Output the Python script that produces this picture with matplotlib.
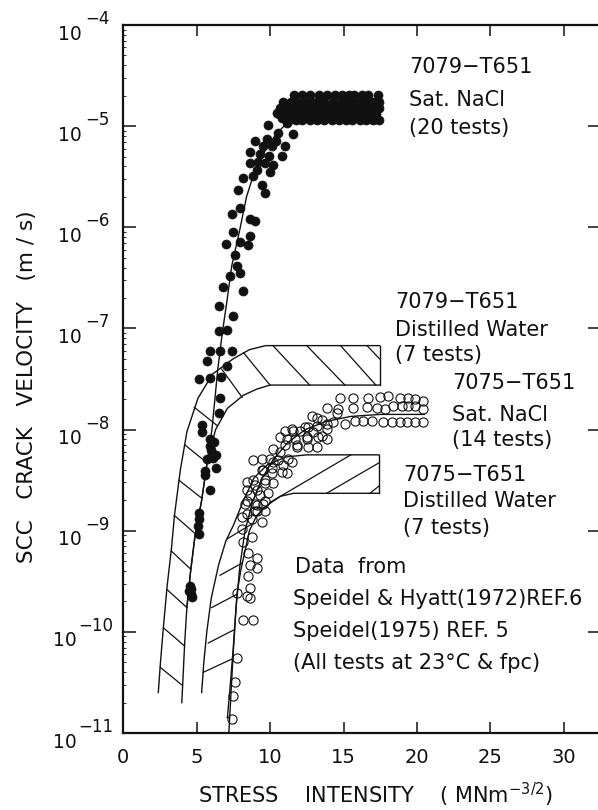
import numpy as np
import matplotlib
matplotlib.use("Agg")
import matplotlib.pyplot as plt

# ---------------------------------------------------------------- data
# 7079-T651, saturated NaCl (filled circles): stress intensity K and log10 velocity
nacl_7079_K = [4.55, 4.65, 4.6, 4.7, 4.5, 5.15, 5.2, 5.1, 5.2,
               5.9, 5.6, 6.3, 5.7, 6.1, 5.9, 5.9, 6.2, 5.4, 5.4, 6.5, 6.6, 5.2, 5.9, 6.7,
               5.7, 5.9, 6.6, 7.4, 7.1, 6.5, 7.1, 7.5, 6.5, 6.83, 8.19, 7.28, 7.96, 7.73,
               7.62, 7.01, 7.96, 8.53, 7.51, 8.64, 7.39, 7.96, 8.64, 8.98, 7.85, 8.19,
               8.87, 9.43, 9.66, 8.64, 9.09, 10.0, 9.66, 10.23, 10.79, 8.64, 9.32, 10.11,
               11.02, 8.98, 9.77, 10.57, 11.59, 9.89, 11.13, 10.45, 11.59, 10.79, 9.5,
               9.9, 9.2, 10.4, 6.0, 6.3, 5.6,
               11.6, 12.15, 12.7, 13.3, 13.85, 14.4, 14.9, 15.35, 15.7, 16.25, 16.7, 17.35,
               10.9, 11.4, 11.8, 12.3, 12.8, 13.2, 13.7, 14.3, 14.8, 15.2, 15.7, 16.1, 16.6, 17.0, 17.4,
               10.7, 11.2, 11.7, 12.1, 12.6, 13.0, 13.5, 14.0, 14.5, 15.0, 15.5, 15.9, 16.4, 16.9, 17.4,
               10.6, 11.0, 11.5, 12.0, 12.4, 12.9, 13.4, 13.9, 14.3, 14.8, 15.3, 15.8, 16.2, 16.7, 17.2,
               11.3, 11.8, 12.2, 12.7, 13.2, 13.7, 14.2, 14.7, 15.2, 15.6, 16.1, 16.5, 17.0, 17.4]
nacl_7079_logv = [-9.55, -9.58, -9.63, -9.66, -9.6, -8.82, -8.88, -8.95, -9.03,
                  -8.6, -8.41, -8.38, -8.29, -8.28, -8.16, -8.09, -8.12, -8.02, -7.95, -7.84, -7.69, -7.5, -7.49, -7.48,
                  -7.32, -7.22, -7.22, -7.22, -7.37, -7.03, -7.02, -6.88, -6.78, -6.59, -6.63, -6.48, -6.45, -6.38,
                  -6.27, -6.17, -6.15, -6.18, -6.05, -6.09, -5.87, -5.81, -5.92, -5.94, -5.63, -5.51,
                  -5.49, -5.58, -5.66, -5.36, -5.43, -5.45, -5.36, -5.38, -5.30, -5.26, -5.28, -5.20,
                  -5.20, -5.15, -5.13, -5.07, -5.08, -4.99, -4.97, -4.87, -4.89, -4.92, -5.2,
                  -5.3, -5.35, -5.15, -8.2, -8.25, -8.45,
                  -4.69, -4.69, -4.69, -4.69, -4.69, -4.69, -4.69, -4.69, -4.69, -4.69, -4.69, -4.69,
                  -4.76, -4.76, -4.76, -4.76, -4.76, -4.76, -4.76, -4.76, -4.76, -4.76, -4.76, -4.76, -4.76, -4.76, -4.76,
                  -4.82, -4.82, -4.82, -4.82, -4.82, -4.82, -4.82, -4.82, -4.82, -4.82, -4.82, -4.82, -4.82, -4.82, -4.82,
                  -4.88, -4.88, -4.88, -4.88, -4.88, -4.88, -4.88, -4.88, -4.88, -4.88, -4.88, -4.88, -4.88, -4.88, -4.88,
                  -4.94, -4.94, -4.94, -4.94, -4.94, -4.94, -4.94, -4.94, -4.94, -4.94, -4.94, -4.94, -4.94, -4.94]

# 7075-T651, saturated NaCl (open circles)
nacl_7075_K = [14.76, 15.67, 16.69, 17.48, 18.05, 18.84, 19.41, 19.86, 20.4,
               13.86, 14.65, 15.67, 16.58, 17.26, 17.82, 18.39, 18.96, 19.41, 19.86, 20.4,
               14.31, 15.10, 15.78, 16.35, 16.92, 17.71, 18.28, 18.84, 19.30, 19.86, 20.4,
               12.84, 13.51, 13.17, 13.86, 12.61, 12.04, 11.47, 11.02, 11.70, 12.49, 13.29,
               13.86, 10.68, 10.23, 11.02, 11.81, 12.61, 13.17, 9.43, 8.87, 10.00, 10.57,
               11.25, 9.43, 10.11, 10.79, 11.13, 8.41, 8.98, 9.66, 10.23, 8.64, 9.32, 9.89,
               8.30, 8.98, 9.55, 8.41, 9.09,
               8.87, 8.41, 9.09, 9.66, 10.11, 9.55, 10.23, 10.91, 11.47, 10.68, 11.13, 11.81,
               12.49, 11.59, 12.38, 12.95, 13.51, 13.17, 13.85, 14.53,
               8.41, 9.09, 9.66, 8.98, 9.66, 8.07, 8.75, 9.43, 8.07, 8.19, 8.75, 8.53, 9.09,
               8.64, 9.09, 8.53, 8.64, 7.73, 8.41, 8.64, 8.19, 8.87, 7.73, 7.62, 7.51, 7.39]
nacl_7075_logv = [-7.69, -7.69, -7.69, -7.68, -7.67, -7.69, -7.69, -7.70, -7.72,
                  -7.79, -7.80, -7.79, -7.78, -7.79, -7.80, -7.77, -7.77, -7.77, -7.77, -7.80,
                  -7.93, -7.94, -7.92, -7.92, -7.92, -7.93, -7.93, -7.93, -7.93, -7.93, -7.93,
                  -7.87, -7.91, -7.96, -7.99, -7.97, -8.01, -7.99, -8.01, -8.09, -8.07, -8.07,
                  -8.09, -8.07, -8.19, -8.15, -8.17, -8.17, -8.17, -8.29, -8.30, -8.29, -8.30,
                  -8.29, -8.40, -8.38, -8.42, -8.43, -8.52, -8.55, -8.53, -8.53, -8.65, -8.65, -8.63,
                  -8.74, -8.74, -8.74, -8.83, -8.81,
                  -8.50, -8.60, -8.60, -8.50, -8.43, -8.40, -8.32, -8.35, -8.32, -8.22, -8.09, -8.15,
                  -8.09, -8.01, -7.97, -8.02, -8.06, -7.89, -7.94, -7.84,
                  -8.71, -8.75, -8.71, -8.81, -8.81, -8.86, -8.88, -8.91, -8.98, -9.11, -9.06, -9.22, -9.27,
                  -9.34, -9.37, -9.45, -9.57, -9.62, -9.65, -9.67, -9.88, -9.88, -10.26, -10.50, -10.63, -10.86]

# Trend lines through the NaCl data
fit_7079_K = [4.35, 4.6, 4.9, 5.35, 5.75, 6.05, 6.25, 6.45, 6.75, 7.05, 7.4, 7.95, 8.4,
              8.9, 9.5, 10.4, 11.5, 13.0, 15.0, 17.45]
fit_7079_logv = [-9.75, -9.4, -9.05, -8.7, -8.3, -8.0, -7.7, -7.4, -7.05, -6.75, -6.38,
                 -6.02, -5.7, -5.47, -5.28, -5.08, -4.92, -4.83, -4.8, -4.8]
fit_7075_K = [7.2, 7.35, 7.5, 7.7, 7.95, 8.3, 8.8, 9.4, 10.2, 11.2, 12.4, 13.8, 15.5, 17.5, 20.5]
fit_7075_logv = [-11.0, -10.6, -10.2, -9.75, -9.35, -9.0, -8.72, -8.5, -8.3, -8.13, -8.0,
                 -7.92, -7.87, -7.85, -7.85]

# 7079-T651, distilled water scatter band (upper / lower bounds)
dw_7079_upper_K = [2.4, 2.55, 2.75, 3.0, 3.3, 3.5, 3.9, 4.35, 5.1, 6.1, 7.5, 8.6, 9.7, 17.45]
dw_7079_upper_logv = [-10.6, -10.3, -9.95, -9.55, -9.17, -8.85, -8.4, -8.02, -7.69, -7.45,
                      -7.3, -7.21, -7.17, -7.17]
dw_7079_lower_K = [4.0, 4.1, 4.2, 4.35, 4.6, 4.9, 5.35, 5.75, 6.3, 7.1, 8.2, 9.1, 10.0, 17.45]
dw_7079_lower_logv = [-10.7, -10.4, -10.1, -9.75, -9.4, -9.05, -8.7, -8.3, -8.0, -7.79,
                      -7.66, -7.6, -7.56, -7.56]
# hatch strokes across the band: (K1, logv1, K2, logv2)
dw_7079_hatch = [(2.53, -10.35, 4.05, -10.53), (2.75, -9.96, 4.19, -10.14),
                 (2.98, -9.58, 4.35, -9.76), (3.28, -9.2, 4.6, -9.38),
                 (3.5, -8.85, 4.92, -9.03), (3.8, -8.5, 5.37, -8.68),
                 (4.2, -8.15, 5.72, -8.33), (4.85, -7.78, 6.4, -7.96),
                 (6.7, -7.40, 8.1, -7.68), (8.2, -7.24, 10.0, -7.56),
                 (10.2, -7.17, 12.7, -7.56), (12.5, -7.17, 15.1, -7.56),
                 (14.8, -7.17, 17.2, -7.56), (16.6, -7.17, 17.45, -7.3)]

# 7075-T651, distilled water scatter band
dw_7075_upper_K = [5.35, 5.5, 5.7, 6.0, 6.5, 7.0, 7.5, 8.2, 8.9, 9.8, 11.1, 12.5, 17.4]
dw_7075_upper_logv = [-10.6, -10.3, -10.0, -9.67, -9.34, -9.1, -8.95, -8.7, -8.48, -8.35,
                      -8.27, -8.25, -8.25]
dw_7075_lower_K = [7.1, 7.3, 7.5, 7.75, 8.0, 8.3, 8.6, 9.1, 9.8, 10.7, 11.6, 17.4]
dw_7075_lower_logv = [-10.85, -10.52, -10.16, -9.63, -9.4, -9.2, -9.0, -8.85, -8.75, -8.66,
                      -8.63, -8.63]
dw_7075_hatch = [(5.46, -10.40, 7.39, -10.27), (5.8, -10.11, 7.55, -9.98),
                 (6.03, -9.76, 7.73, -9.63), (6.6, -9.44, 8.1, -9.32),
                 (7.1, -9.08, 8.8, -8.93), (10.0, -8.72, 15.5, -8.25),
                 (13.85, -8.63, 17.4, -8.33), (16.8, -8.63, 17.4, -8.56)]

x_ticks = [0, 5, 10, 15, 20, 25, 30]
x_ticklabels = ["0", "5", "10", "15", "20", "25", "30"]
y_exponents = [-4, -5, -6, -7, -8, -9, -10, -11]

# ---------------------------------------------------------------- style
W, H = 598, 810
plt.rcParams["font.family"] = ["DejaVu Sans"]
plt.rcParams["mathtext.fontset"] = "dejavusans"

fig = plt.figure(figsize=(W / 100, H / 100), dpi=100)
ax = fig.add_axes([123 / W, 1 - 733 / H, 477 / W, 708 / H])
ax.set_yscale("log")
ax.set_xlim(0, 477 / 14.7)
ax.set_ylim(1e-11, 1e-4)

INK = "#111111"
for s in ax.spines.values():
    s.set_linewidth(1.6)
    s.set_color(INK)


def v(logs):
    return 10.0 ** np.asarray(logs)


# scatter bands for distilled water
lw = 1.0
for (uk, ul, lk, ll, hatch) in [
        (dw_7079_upper_K, dw_7079_upper_logv, dw_7079_lower_K, dw_7079_lower_logv, dw_7079_hatch),
        (dw_7075_upper_K, dw_7075_upper_logv, dw_7075_lower_K, dw_7075_lower_logv, dw_7075_hatch)]:
    ax.plot(uk, v(ul), color=INK, lw=lw)
    ax.plot(lk, v(ll), color=INK, lw=lw)
    ax.plot([uk[-1], lk[-1]], [v(ul[-1]), v(ll[-1])], color=INK, lw=lw)
    for k1, l1, k2, l2 in hatch:
        ax.plot([k1, k2], v([l1, l2]), color=INK, lw=0.9)

# trend lines
ax.plot(fit_7079_K, v(fit_7079_logv), color=INK, lw=1.0)
ax.plot(fit_7075_K, v(fit_7075_logv), color=INK, lw=1.0)

# data points
ax.plot(nacl_7079_K, v(nacl_7079_logv), ls="none", marker="o", ms=6.5,
        mfc=INK, mec=INK, mew=0.5, zorder=4)
ax.plot(nacl_7075_K, v(nacl_7075_logv), ls="none", marker="o", ms=6.6,
        mfc="none", mec=INK, mew=0.8, zorder=4)

# ticks
ax.set_xticks(x_ticks)
ax.set_xticklabels(x_ticklabels)
ax.tick_params(axis="x", which="major", direction="in", top=True, bottom=True,
               length=8, width=1.1, color=INK, labelsize=14, pad=11, labelcolor=INK)
ax.set_yticks([10.0 ** e for e in y_exponents])
ax.set_yticklabels([])
ax.tick_params(axis="y", which="major", direction="in", left=True, right=True,
               length=9, width=1.1, color=INK)
ax.yaxis.set_minor_locator(matplotlib.ticker.LogLocator(base=10, subs=(2, 3, 4, 5, 6, 7, 8, 9)))
ax.yaxis.set_minor_formatter(matplotlib.ticker.NullFormatter())
ax.tick_params(axis="y", which="minor", direction="in", left=True, right=False,
               length=2.5, width=0.6, color=INK)
ax.xaxis.set_minor_locator(matplotlib.ticker.NullLocator())


def ftext(x, y, s, **kw):
    fig.text(x / W, 1 - y / H, s, color=INK, **kw)


# y tick labels: 10 with a raised exponent
for e in y_exponents:
    ypix = 25 + (-4 - e) * (708 / 7)
    exp = "\u2212" + str(-e)
    if e > -10:
        ftext(82, ypix + 9, "10", ha="right", va="center", fontsize=13.5)
        ftext(85, ypix - 6, exp, ha="left", va="center", fontsize=12)
    else:
        ftext(77, ypix + 9, "10", ha="right", va="center", fontsize=13.5)
        ftext(78, ypix - 6, exp, ha="left", va="center", fontsize=12)

# axis titles
ftext(375, 803, "STRESS    INTENSITY    ( MNm$^{-3/2}$)", ha="center", va="baseline",
      fontsize=15)
ftext(27, 387, "SCC   CRACK   VELOCITY   (m / s)", ha="center", va="center",
      rotation=90, fontsize=15.5)

# annotations
fs = 15
ftext(409, 67, "7079\u2212T651", ha="left", va="center", fontsize=fs)
ftext(409, 100, "Sat. NaCl", ha="left", va="center", fontsize=fs)
ftext(409, 128, "(20 tests)", ha="left", va="center", fontsize=fs)

ftext(395, 302, "7079\u2212T651", ha="left", va="center", fontsize=fs)
ftext(395, 330, "Distilled Water", ha="left", va="center", fontsize=fs)
ftext(395, 355, "(7 tests)", ha="left", va="center", fontsize=fs)

ftext(452, 383, "7075\u2212T651", ha="left", va="center", fontsize=fs)
ftext(452, 415, "Sat. NaCl", ha="left", va="center", fontsize=fs)
ftext(452, 440, "(14 tests)", ha="left", va="center", fontsize=fs)

ftext(403, 475, "7075\u2212T651", ha="left", va="center", fontsize=fs)
ftext(403, 501, "Distilled Water", ha="left", va="center", fontsize=fs)
ftext(403, 528, "(7 tests)", ha="left", va="center", fontsize=fs)

ftext(295, 567, "Data  from", ha="left", va="center", fontsize=fs)
ftext(293, 599, "Speidel & Hyatt(1972)REF.6", ha="left", va="center", fontsize=fs)
ftext(293, 631, "Speidel(1975) REF. 5", ha="left", va="center", fontsize=fs)
ftext(293, 663, "(All tests at 23\u00b0C & fpc)", ha="left", va="center", fontsize=fs)

fig.savefig("out.png", dpi=100, facecolor="white")
